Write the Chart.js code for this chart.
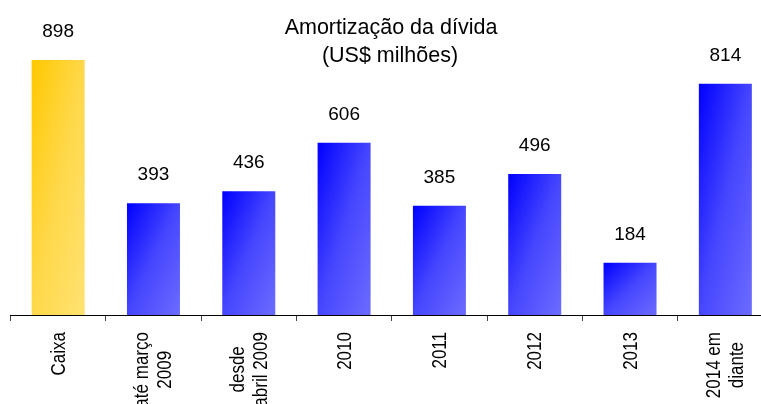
<!DOCTYPE html>
<html>
<head>
<meta charset="utf-8">
<script src="https://cdn.jsdelivr.net/npm/chart.js@4"></script>
<style>
html,body{margin:0;padding:0;background:#fff;overflow:hidden}
#wrap{width:761px;height:404px;overflow:hidden}
</style>
</head>
<body>
<div id="wrap"><canvas id="myChart" width="773" height="404"></canvas></div>
<script>
//DATOS
const categorias=[["Caixa"],["até março","2009"],["desde","abril 2009"],["2010"],["2011"],["2012"],["2013"],["2014 em","diante"]]
const valores=[898,393,436,606,385,496,184,814]
const titulo=["Amortização da dívida","(US$ milhões)"]
const yMax=1109
const anchoBarra=0.556

//COLORES
//degradado diagonal escalado a cada barra (esquina sup-izq -> inf-der)
function gradiente(ctx){
    const chart=ctx.chart
    const x=chart.scales.x
    const y=chart.scales.y
    const base=ctx.dataIndex===0 ? "#ffd640" : "#3636ff"
    if (!x || !y || ctx.dataIndex===undefined) return base
    const cx=x.getPixelForValue(ctx.dataIndex)
    const top=y.getPixelForValue(valores[ctx.dataIndex])
    const bottom=y.getPixelForValue(0)
    const W=(x.getPixelForValue(1)-x.getPixelForValue(0))*anchoBarra
    const H=bottom-top
    if (![cx,top,bottom,W,H].every(Number.isFinite) || W<=0 || H<=0) return base
    const x0=cx-W/2
    const k=2*W*H/(H*H+W*W)
    const g=chart.ctx.createLinearGradient(x0,top,x0+k*H,top+k*W)
    if (ctx.dataIndex===0) {
        g.addColorStop(0,"#ffc800")
        g.addColorStop(0.5,"#ffd84a")
        g.addColorStop(1,"#ffe272")
    } else {
        g.addColorStop(0,"#0000ff")
        g.addColorStop(0.5,"#4646ff")
        g.addColorStop(1,"#6c6cff")
    }
    return g
}

//PLUGINS
const textos={
    id:"textos",
    afterDraw(chart){
        const ctx=chart.ctx
        const x=chart.scales.x
        const y=chart.scales.y
        ctx.save()
        ctx.fillStyle="#000"

        //titulo
        ctx.font='21.5px "Liberation Sans", Arial, sans-serif'
        ctx.textAlign="center"
        ctx.textBaseline="alphabetic"
        ctx.fillText(titulo[0],391,33.5)
        ctx.fillText(titulo[1],390,62)

        //valores
        ctx.font='19px "Liberation Sans", Arial, sans-serif'
        valores.forEach((v,i)=>{
            ctx.fillText(String(v),x.getPixelForValue(i),y.getPixelForValue(v)-23)
        })

        //etiquetas del eje
        ctx.font='21px "Liberation Sans", Arial, sans-serif'
        const esc=0.81
        const alto=23
        categorias.forEach((lineas,i)=>{
            const cx=x.getPixelForValue(i)
            const anchos=lineas.map(l=>ctx.measureText(l).width*esc)
            const maxW=Math.max(...anchos)
            const centro=332+maxW/2
            lineas.forEach((l,j)=>{
                const bx=cx+(j-(lineas.length-1)/2)*alto+6.5
                ctx.save()
                ctx.translate(bx,centro)
                ctx.rotate(-Math.PI/2)
                ctx.scale(esc,1)
                ctx.textAlign="center"
                ctx.textBaseline="alphabetic"
                ctx.fillText(l,0,0)
                ctx.restore()
            })
        })
        ctx.restore()
    }
}

//GRAFICA
const config={
    type:"bar",
    data:{
        labels:categorias,
        datasets:[{
            data:valores,
            backgroundColor:gradiente,
            borderWidth:0,
            barPercentage:anchoBarra,
            categoryPercentage:1
        }]
    },
    options:{
        responsive:false,
        animation:false,
        devicePixelRatio:1,
        layout:{padding:{left:10.5,right:0,top:0,bottom:0}},
        plugins:{legend:{display:false},title:{display:false},tooltip:{enabled:false}},
        scales:{
            x:{
                grid:{offset:true,drawOnChartArea:false,tickLength:6,color:"#444",lineWidth:1},
                border:{color:"#000",width:1},
                ticks:{display:false},
                afterFit(scale){scale.height=89}
            },
            y:{display:false,min:0,max:yMax}
        }
    },
    plugins:[textos]
}

const myChart=new Chart(document.querySelector("#myChart"),config)
</script>
</body>
</html>
